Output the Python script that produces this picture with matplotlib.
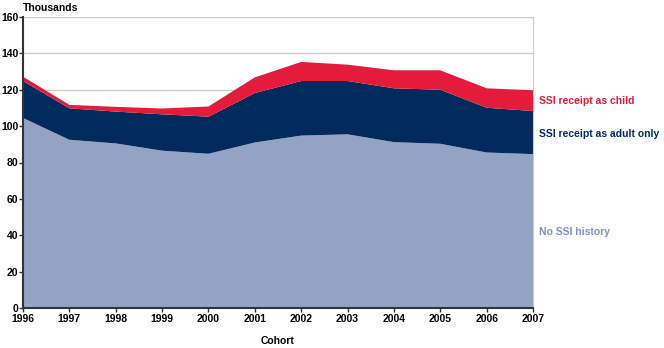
import matplotlib.pyplot as plt

plt.rcParams['font.family'] = ['Liberation Sans', 'DejaVu Sans']
plt.rcParams['font.weight'] = 'bold'

# Data (thousands)
years = [1996, 1997, 1998, 1999, 2000, 2001, 2002, 2003, 2004, 2005, 2006, 2007]
no_ssi = [104.5, 92.5, 90.5, 86.5, 84.8, 91.0, 94.8, 95.5, 91.2, 90.3, 85.5, 84.6]
adult_top = [124.8, 109.8, 108.0, 106.5, 105.2, 118.2, 124.8, 124.8, 120.8, 120.0, 110.1, 108.3]
total = [127.2, 111.7, 110.6, 109.7, 110.8, 126.8, 135.3, 133.8, 130.7, 130.7, 120.8, 119.7]

adult = [a - n for a, n in zip(adult_top, no_ssi)]
child = [t - a for t, a in zip(total, adult_top)]

c_none = '#94a3c3'
c_adult = '#002b5c'
c_child = '#e41b3a'

fig = plt.figure(figsize=(6.64, 3.48), dpi=100)
ax = fig.add_axes([23/664, 1 - 308/348, 510/664, 291/348])

ax.stackplot(years, no_ssi, adult, child, colors=[c_none, c_adult, c_child],
             linewidth=0, zorder=2)

ax.set_xlim(1996, 2007)
ax.set_ylim(0, 160)
ax.set_yticks(range(0, 161, 20))
ax.set_xticks(years)
ax.grid(axis='y', color='#cccccc', linewidth=1, zorder=0)
ax.set_axisbelow(True)

ax.spines['top'].set_visible(False)
ax.spines['right'].set_color('#cccccc')
for s in ['left', 'bottom']:
    ax.spines[s].set_color('#333333')
    ax.spines[s].set_linewidth(1.5)
    ax.spines[s].set_zorder(5)

ax.tick_params(axis='both', labelsize=7.5, color='#333333', length=3, width=1)
ax.tick_params(axis='x', pad=1)
ax.tick_params(axis='y', pad=0.5)

ax.text(0.0, 1.015, 'Thousands', transform=ax.transAxes, fontsize=7.5,
        fontweight='bold', ha='left', va='bottom')
ax.set_xlabel('Cohort', fontsize=7.5, fontweight='bold', labelpad=9)

ax.text(2007.12, 113.8, 'SSI receipt as child', color=c_child, fontsize=7.5,
        fontweight='bold', va='center', ha='left', clip_on=False)
ax.text(2007.12, 95.7, 'SSI receipt as adult only', color=c_adult, fontsize=7.5,
        fontweight='bold', va='center', ha='left', clip_on=False)
ax.text(2007.12, 41.8, 'No SSI history', color='#8294bb', fontsize=7.5,
        fontweight='bold', va='center', ha='left', clip_on=False)

fig.savefig('out.png', dpi=100)
